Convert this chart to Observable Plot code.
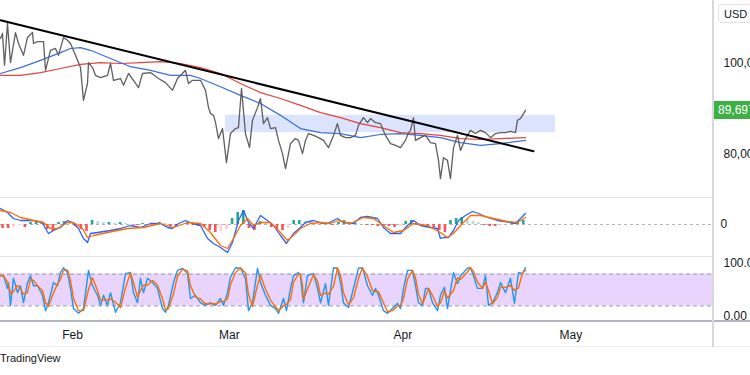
<!DOCTYPE html>
<html><head><meta charset="utf-8">
<script src="https://cdn.jsdelivr.net/npm/d3@7"></script>
<script src="https://cdn.jsdelivr.net/npm/@observablehq/plot@0.6"></script>
<style>
html,body{margin:0;padding:0;background:#fff;overflow:hidden;}
#wrap{position:relative;width:750px;height:375px;overflow:hidden;font-family:"Liberation Sans",Arial,sans-serif;color:#131722;}
.pane{position:absolute;left:0;}
.ln{position:absolute;}
</style></head><body><div id="wrap"></div>
<script>
// ---- data (time in days since 2025-01-19 00:00 UTC) ----
const priceDays = [0.14,0.50,0.86,1.39,1.93,2.82,3.36,4.25,4.96,5.86,6.04,6.75,7.82,8.18,9.07,9.96,10.50,11.39,12.11,12.64,13.54,14.43,14.96,15.68,15.86,16.57,17.11,18.00,19.25,19.79,20.32,21.57,22.11,23.00,23.89,24.79,25.50,26.93,28.36,29.61,30.86,31.75,33.18,33.71,34.43,35.86,36.75,37.29,37.64,38.18,38.54,39.07,39.79,40.50,41.21,42.11,42.64,43.18,43.89,44.61,45.14,46.04,46.57,47.11,47.82,48.36,49.25,49.79,50.50,51.04,51.93,52.82,53.36,54.07,54.61,55.14,56.04,56.93,57.82,58.71,59.61,60.32,60.86,61.75,62.64,63.54,64.07,64.96,65.68,66.21,67.11,68.00,68.89,69.79,70.68,71.57,72.46,73.00,73.36,73.89,74.25,75.14,76.04,76.93,77.82,78.36,78.71,79.25,79.96,80.50,81.04,81.75,82.29,83.18,84.07,84.96,85.86,86.75,87.64,88.54,89.43,90.32,91.21,92.11,92.46,93.00,93.54,93.89];
const priceValues = [105500,106600,99600,108800,100200,106800,104400,101800,105700,106800,104400,104800,104800,98500,102900,103300,101800,105700,105100,104400,101800,99100,91900,95600,100200,99100,97400,96900,97400,100000,96300,96700,95200,97800,96300,94700,97800,98000,96700,95800,94100,96700,98500,95600,96300,96300,94100,90300,89000,88600,87000,83500,85700,78200,84600,85700,85900,94500,84600,81500,87500,90300,92300,86800,88100,85700,85900,83100,80200,76900,82400,83500,83100,80200,83100,84600,84200,83700,83100,81500,84200,86800,84200,83700,83700,84200,86400,88100,87000,87900,87000,86800,84200,82400,82000,81500,83100,84800,85300,88100,83100,83700,84200,82600,82400,78700,74700,79300,78700,74700,81500,84200,80900,83500,85300,84600,85300,84800,83700,84600,84800,84800,85100,84800,87500,87900,89000,89697];
const lastPrice = 89697;
const priceTicks = [80000, 100000];

const maBlueDays = [0.14,3.71,7.29,10.86,12.64,14.43,16.21,19.79,23.36,26.93,30.50,34.07,35.86,39.43,43.00,46.57,50.14,53.71,57.29,60.86,64.43,68.00,71.57,75.14,78.71,82.29,85.86,89.43,93.89];
const maBlueValues = [97800,99100,100700,102400,103300,103500,102900,101100,99300,98500,97400,97400,96700,94900,93000,91200,88600,85700,84800,84600,83700,84400,84600,84200,83700,82600,82000,82400,83100];
const maRedDays = [0.14,3.71,7.29,10.86,14.43,18.00,21.57,25.14,28.71,32.29,35.86,39.43,43.00,46.57,50.14,53.71,57.29,60.86,64.43,68.00,71.57,75.14,78.71,82.29,85.86,89.43,93.89];
const maRedValues = [97400,97400,98000,98900,99800,100200,100000,100200,100400,100000,99100,97800,95600,93600,92300,90800,89200,88100,86800,85900,84800,84600,84200,83500,83300,83500,83700];

const trendDays = [0.14, 95.32];
const trendValues = [109500, 80700];
const zoneDays = [40.32, 99.25];
const zoneValues = [84800, 88600];

const macdDays = [0.14,1.39,2.46,3.71,4.96,6.04,7.64,8.18,8.71,9.61,10.86,12.11,13.00,14.07,14.96,15.68,16.21,17.46,19.79,21.57,23.36,25.14,26.93,28.71,29.96,30.86,31.93,33.18,34.43,35.86,37.11,38.18,39.43,40.68,41.57,42.64,43.54,44.43,45.32,46.57,47.82,48.89,50.14,51.21,52.46,53.71,54.61,56.04,57.29,58.54,59.61,60.32,61.39,63.18,64.43,65.68,67.46,68.54,69.79,71.57,72.82,73.89,75.14,76.93,78.18,78.71,79.25,80.14,81.04,81.93,83.18,84.43,85.50,87.11,88.89,91.21,92.11,93.00,93.89];
const macdValues = [1600,1200,600,400,400,400,200,-400,-900,-600,-300,400,200,-400,-1400,-1800,-900,-800,-600,-400,-100,-300,100,100,-300,-400,100,400,100,-100,-1400,-1900,-2300,-2800,-1800,400,1400,200,-400,900,400,-100,-1100,-1900,-900,-300,200,400,200,100,400,600,200,100,700,800,600,-300,-900,-900,-100,400,-100,-300,-400,-1400,-1300,-1300,-600,400,900,1300,1100,700,400,200,100,600,1100];
const signalDays = [0.14,1.93,3.71,6.04,7.82,9.07,10.32,12.11,13.18,14.79,15.68,16.75,19.25,22.82,25.68,28.71,31.04,33.54,35.86,37.64,39.43,40.68,41.75,43.00,44.25,45.32,46.57,48.36,50.14,51.39,52.46,53.71,55.50,57.29,59.07,60.50,62.64,64.96,66.75,68.54,70.32,72.11,73.89,76.39,78.71,79.96,81.04,82.29,84.07,85.86,88.18,90.68,92.46,93.89];
const signalValues = [1400,1200,700,400,200,-400,-400,200,200,-400,-1300,-1100,-800,-400,-300,100,-300,200,100,-800,-2100,-2400,-1400,-100,600,-100,200,200,-800,-1600,-1100,-400,100,200,100,400,100,700,600,-100,-800,-600,100,-100,-800,-1300,-900,-100,900,900,600,300,200,700];
// histogram, one bar per day starting 2025-01-19
const histValues = [-400,-400,-300,-100,-300,200,200,200,-500,-700,200,300,200,-200,-500,-700,400,300,200,200,100,200,100,0,-100,100,0,100,200,100,-200,-200,-100,200,-100,-200,-300,-600,-800,-700,-500,600,1200,1400,-400,-600,300,200,-300,-500,-600,-400,400,400,300,200,0,100,100,-100,200,400,100,100,0,-100,-100,-200,-200,-200,-300,-200,300,400,-100,-200,-300,-300,-600,-800,400,600,700,500,300,200,-100,-200,-200,-100,0,100,300,400];

const stochDays = [0.14,0.68,1.39,1.57,1.93,2.46,3.18,3.71,4.25,4.96,5.50,6.04,6.75,7.64,8.18,8.71,9.61,10.32,10.86,11.39,12.11,12.64,13.18,14.07,14.96,15.86,16.57,17.46,18.00,18.54,19.25,19.79,20.68,21.57,22.46,23.36,23.89,24.61,25.14,25.68,26.39,27.29,28.18,29.07,29.61,30.14,31.04,31.75,32.64,33.54,34.07,34.96,35.86,36.75,37.64,38.54,39.43,39.96,40.68,41.21,42.11,43.00,43.89,44.43,45.14,46.04,46.57,47.46,48.36,49.25,49.79,50.68,51.21,51.93,52.46,53.36,53.71,54.07,54.25,54.96,56.04,56.75,57.29,58.18,58.71,59.61,60.32,60.86,61.39,62.29,63.18,64.07,64.79,65.68,66.57,67.11,67.64,68.54,69.25,70.14,71.04,71.57,72.11,72.82,73.71,74.25,74.79,75.50,76.04,76.57,77.29,78.18,78.71,79.43,79.96,81.04,81.75,82.29,83.54,84.07,84.61,85.32,86.21,86.75,87.29,88.00,88.89,89.43,90.32,91.21,91.93,92.64,93.36,93.89];
const stochK = [77,77,53,64,21,72,45,58,26,64,77,58,58,40,11,26,64,58,83,92,83,53,15,6,15,87,58,40,21,40,21,45,8,26,81,83,45,26,72,45,72,64,53,15,8,21,64,87,91,81,34,40,26,21,26,21,34,21,45,74,92,91,72,11,26,91,64,40,21,15,6,34,11,53,77,83,77,40,26,77,81,53,26,62,21,92,91,64,26,17,53,91,92,58,40,53,40,11,6,15,25,15,53,87,87,58,26,21,53,53,26,11,40,55,15,83,62,77,91,92,77,53,53,77,21,26,45,64,45,72,25,83,81,92];
const stochD = [77,77,65,59,43,47,59,52,42,45,70,68,58,49,26,19,45,61,70,87,88,68,34,11,11,51,73,49,31,31,31,33,27,17,54,82,64,36,49,59,59,68,59,34,12,15,43,76,89,86,58,37,33,24,24,24,28,28,33,60,83,92,82,42,19,59,78,52,31,18,11,20,23,32,65,80,80,59,33,52,79,67,40,44,42,57,92,78,45,22,35,72,92,75,49,47,47,26,9,11,20,20,34,70,87,73,42,24,37,53,40,19,26,48,35,49,73,70,84,92,85,65,53,65,49,24,36,55,55,59,49,54,82,87];
const stochLevels = [20, 80];
const stochTicks = [0, 100];

const monthTicks = ["2025-02-01","2025-03-01","2025-04-01","2025-05-01"];

// ---- helpers ----
const t0 = Date.UTC(2025, 0, 19);
const toDate = d => new Date(t0 + d * 864e5);
const zip = (ds, vs) => ds.map((d, i) => ({t: toDate(d), v: vs[i]}));
const price = zip(priceDays, priceValues);
const maBlue = zip(maBlueDays, maBlueValues);
const maRed = zip(maRedDays, maRedValues);
const trend = zip(trendDays, trendValues);
const macd = zip(macdDays, macdValues);
const signal = zip(signalDays, signalValues);
const hist = histValues.map((v, i) => ({t: toDate(i + 0.5), v, prev: i ? histValues[i - 1] : v}));
const stK = zip(stochDays, stochK);
const stD = zip(stochDays, stochD);

const FONT = "Liberation Sans, Arial, sans-serif";
const base = {
  width: 750, marginLeft: 0, marginRight: 38, marginTop: 0, marginBottom: 0,
  x: {type: "utc", domain: [toDate(0.143), toDate(127.29)], axis: null},
  style: {fontFamily: FONT, fontSize: "12px", color: "#131722", background: "transparent", overflow: "visible"}
};
const wrap = document.getElementById("wrap");
function place(el, top) { el.classList.add("pane"); el.style.top = top + "px"; wrap.appendChild(el); return el; }
function line(l, t, w, h, c) { const d = document.createElement("div"); d.className = "ln"; Object.assign(d.style, {left: l + "px", top: t + "px", width: w + "px", height: h + "px", background: c}); wrap.appendChild(d); }

// main price pane
const main = Plot.plot({
  ...base, height: 197,
  y: {domain: [70547, 113847], axis: null},
  marks: [
    Plot.rect([0], {x1: () => toDate(zoneDays[0]), x2: () => toDate(zoneDays[1]), y1: () => zoneValues[0], y2: () => zoneValues[1], fill: "#dbe3fd"}),
    Plot.line(maRed, {x: "t", y: "v", stroke: "#e2453c", strokeWidth: 1.2}),
    Plot.line(maBlue, {x: "t", y: "v", stroke: "#3a6fd8", strokeWidth: 1.2}),
    Plot.line(price, {x: "t", y: "v", stroke: "#5f5f5f", strokeWidth: 1.3}),
    Plot.line(trend, {x: "t", y: "v", stroke: "#000", strokeWidth: 2}),
    Plot.axisY({anchor: "right", label: null, ticks: priceTicks, tickSize: 0, tickPadding: 11, tickFormat: d3.format(","), fill: "#131722"})
  ]
});
place(main, 0);

// MACD pane
const macdPlot = Plot.plot({
  ...base, height: 58,
  y: {domain: [-3200, 2600], axis: null},
  marks: [
    Plot.ruleY([0], {stroke: "#b2b5be", strokeDasharray: "3,3"}),
    Plot.ruleX(hist, {x: "t", y1: 0, y2: "v", strokeWidth: 2.6,
      stroke: d => d.v >= 0 ? (d.v >= d.prev ? "#26a69a" : "#b2dfdb") : (d.v <= d.prev ? "#ff5252" : "#ffcdd2")}),
    Plot.line(macd, {x: "t", y: "v", stroke: "#2962ff", strokeWidth: 1.3}),
    Plot.line(signal, {x: "t", y: "v", stroke: "#ff6d00", strokeWidth: 1.3}),
    Plot.axisY({anchor: "right", label: null, ticks: [0], tickSize: 0, tickPadding: 8, tickFormat: d => String(d), fill: "#131722"})
  ]
});
place(macdPlot, 198);

// Stoch RSI pane
const stochPlot = Plot.plot({
  ...base, height: 62, marginTop: 5, marginBottom: 4,
  y: {domain: [0, 100], axis: null},
  marks: [
    Plot.rect([stochLevels], {y1: d => d[0], y2: d => d[1], fill: "#e8d4fc"}),
    Plot.ruleY(stochLevels, {stroke: "#9598a1", strokeDasharray: "4,3"}),
    Plot.line(stK, {x: "t", y: "v", stroke: "#2196f3", strokeWidth: 1.4}),
    Plot.line(stD, {x: "t", y: "v", stroke: "#ff6d00", strokeWidth: 1.4}),
    Plot.axisY({anchor: "right", label: null, ticks: stochTicks, tickSize: 0, tickPadding: 11, tickFormat: d3.format(".2f"), fill: "#131722"})
  ]
});
place(stochPlot, 258);

// time axis
const axisPlot = Plot.plot({
  ...base, height: 25,
  marks: [
    Plot.text(monthTicks, {x: d => new Date(d), text: d => d3.utcFormat("%b")(new Date(d)), frameAnchor: "middle", fontSize: 12, fill: "#131722"})
  ]
});
place(axisPlot, 322);

// separators
line(0, 197, 712, 1, "#e0e3eb");
line(0, 256, 712, 1, "#e0e3eb");
line(0, 320, 750, 2, "#b2b5be");
line(0, 346, 750, 1, "#eceef2");
line(712, 0, 2, 347, "#d6d8de");

// USD badge
const usd = document.createElement("div");
usd.textContent = "USD";
Object.assign(usd.style, {position: "absolute", left: "718px", top: "4px", width: "40px", height: "19px", lineHeight: "19px", border: "1px solid #e0e3eb", borderRadius: "3px", fontSize: "11px", paddingLeft: "5px", boxSizing: "border-box", background: "#fff"});
wrap.appendChild(usd);

// last price label
const yMain = main.scale("y");
const lab = document.createElement("div");
lab.textContent = d3.format(",")(lastPrice);
const ly = yMain.apply(lastPrice);
Object.assign(lab.style, {position: "absolute", left: "714px", top: (ly - 9) + "px", width: "45px", height: "18px", lineHeight: "18px", background: "#3cb043", color: "#fff", fontSize: "12px", paddingLeft: "4px", boxSizing: "border-box"});
wrap.appendChild(lab);

// footer
const foot = document.createElement("div");
foot.textContent = "TradingView";
Object.assign(foot.style, {position: "absolute", left: "0px", top: "352px", fontSize: "11px", color: "#131722"});
wrap.appendChild(foot);
</script></body></html>
